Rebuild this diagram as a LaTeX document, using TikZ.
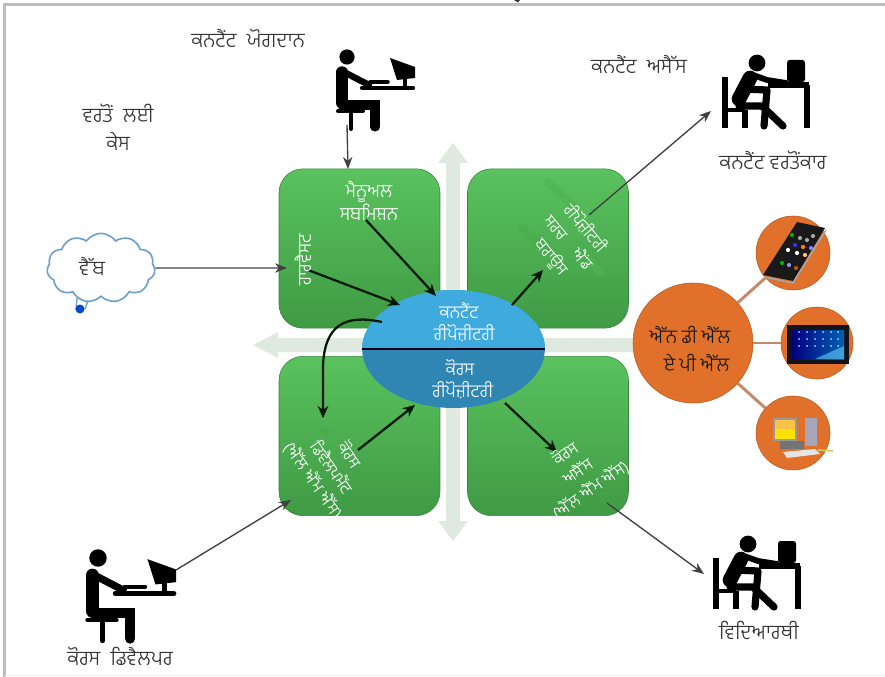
\documentclass[tikz,border=0pt]{standalone}
\usepackage{fontspec}
\setmainfont[Script=Gurmukhi,UprightFont=* Light]{Hind Jalandhar}
\usetikzlibrary{arrows.meta,shapes.geometric,shapes.symbols,calc}
\definecolor{frameg}{HTML}{BDBDBD}
\definecolor{crossg}{HTML}{DFE9DF}
\definecolor{greenT}{HTML}{5AC25E}
\definecolor{greenB}{HTML}{3F9A44}
\definecolor{orangeM}{HTML}{E0702A}
\definecolor{linkO}{HTML}{C48A68}
\definecolor{blueT}{HTML}{3FAADD}
\definecolor{blueB}{HTML}{2F86B3}
\definecolor{cloudB}{HTML}{6E9FCB}
\tikzset{
  x=.75pt,y=-.75pt,
  greenbox/.style={rectangle,rounded corners=18pt,minimum width=120.75pt,minimum height=119.5pt,inner sep=0pt,top color=greenT,bottom color=greenB,draw=greenB!85!black,line width=.4pt},
  lbl/.style={font=\fontsize{15.5}{21}\selectfont,text=black!80,inner sep=0pt,align=center},
  wlbl/.style={font=\fontsize{14}{17.2}\selectfont,text=white,inner sep=0pt,align=center},
  rlbl/.style={font=\fontsize{13.5}{16.5}\selectfont,text=white,inner sep=0pt,align=center},
  slbl/.style={font=\fontsize{12.5}{16.5}\selectfont,text=white,inner sep=0pt,align=center},
  thinarrow/.style={-{Stealth[length=9pt,width=7pt]},line width=1pt,draw=black!75},
  thickarrow/.style={-{Stealth[length=9pt,width=8pt]},line width=1.7pt,draw=black!90!green},
  orb/.style={circle,fill=orangeM,draw=orangeM!80!black,line width=.4pt,inner sep=0pt},
  link/.style={draw=linkO,line width=2.2pt},
  pics/seated/.style={code={
    \begin{scope}[scale=#1,line cap=round,draw=black,fill=black]
      \fill (0,0) circle (7.6);
      \draw[line width=#1*8.6pt] (-5,15)--(-5,46);
      \draw[line width=#1*4.8pt] (-5,14)--(22,28);
      \draw[line width=#1*6.8pt] (-5,48)--(28,48)--(28,70);
      \draw[line width=#1*3pt] (-9,54)--(16,54);
      \draw[line width=#1*3pt] (4,54)--(4,72);
      \draw[line width=#1*3.2pt] (15,31)--(66,31);
      \draw[line width=#1*2.6pt] (23,25)--(41,25);
      \fill[line cap=butt] (43,1)--(68,10)--(68,21)--(50,23)--cycle;
      \draw[line width=#1*3.5pt,line cap=butt] (58,20)--(58,31);
    \end{scope}}},
  pics/atdesk/.style={code={
    \begin{scope}[line cap=round,draw=black,fill=black]
      \fill (0,0) circle (8.4);
      \draw[line width=3.8pt,line cap=butt] (-32,14)--(-32,65);
      \draw[line width=3pt,line cap=butt] (-32,47)--(-12,47);
      \draw[line width=3.8pt,line cap=butt] (-12,47)--(-12,65);
      \draw[line width=3.8pt,line cap=butt] (11,22)--(52,22);
      \draw[line width=3.8pt,line cap=butt] (50,22)--(50,65);
      \draw[line width=11pt] (-7,15)--(-18,36);
      \draw[line width=4.4pt] (-4,12)--(10,17)--(29,20);
      \draw[line width=5.4pt,line join=round] (-13,26)--(10,27)--(7,63);
      \draw[line width=5.4pt,line join=round] (-18,43)--(5,43)--(26,63);
      \fill[rounded corners=2pt] (30,-3) rectangle (48,19);
    \end{scope}}}
}
\begin{document}
\begin{tikzpicture}
\useasboundingbox (0,0) rectangle (885,677);
\fill[white] (0,0) rectangle (885,677);
% frame
\draw[frameg,line width=2.4pt] (885,4.5)--(4.5,4.5)--(4.5,677);
\draw[black!6,line width=1.2pt] (5,675.5)--(885,675.5);
\fill[black!80] (514,0)--(520,0)--(518,2.5)--cycle;
% cross arrows
\fill[crossg] (453,143)--(468,163)--(460,163)--(460,521)--(468,521)--(453,541)--(438,521)--(446,521)--(446,163)--(438,163)--cycle;
\fill[crossg] (253,345)--(278,332)--(278,338)--(640,338)--(640,352)--(278,352)--(278,358)--cycle;
% green boxes
\node[greenbox] (tl) at (359.5,248.5) {};
\node[greenbox] (tr) at (548,248.5) {};
\node[greenbox] (bl) at (359.5,436) {};
\node[greenbox] (br) at (548,436) {};
% smudges
\begin{scope}[line cap=round]
\draw[greenB,opacity=.18,line width=6pt] (548,182)--(572,205);
\draw[greenB,opacity=.18,line width=6pt] (522,228)--(545,250);
\draw[greenT,opacity=.3,line width=6pt] (590,262)--(600,272);
\draw[greenB,opacity=.25,line width=5pt] (322,428)--(326,432);
\end{scope}
% repository
\node[ellipse,minimum width=137pt,minimum height=88.5pt,inner sep=0pt,fill=blueB] (repo) at (453.5,349) {};
\begin{scope}
\clip (350,280) rectangle (560,349);
\fill[blueT] (repo.center) ellipse [x radius=91.5,y radius=59];
\end{scope}
\draw[black!90!blue,line width=1.4pt] (repo.west)--(repo.east);
% orange
\node[orb,minimum width=90pt] (ndl) at (693,343) {};
\node[orb,minimum width=55.5pt] (phone) at (793,253) {};
\node[orb,minimum width=54pt] (tablet) at (817,343) {};
\node[orb,minimum width=55.5pt] (pc) at (793,433) {};
\draw[link] (ndl)--(phone);
\draw[link] (ndl)--(tablet);
\draw[link] (ndl)--(pc);
% phone icon
\fill[black!90] (797,222)--(825,228)--(793,281)--(763,275)--cycle;
\draw[black!35,line width=1.2pt] (764,277)--(793,283)--(826,230);
\foreach \xx/\yy/\cc in {792/235/green!70!black,800/238/black!35,807/240/black!35,813/236/black!35,795/245/blue!80,803/247/orange,811/248/blue!50,788/250/white,797/253/white,805/255/orange!50,782/263/green!70!black,789/265/blue!45,796/268/orange!70!black}
  \fill[\cc] (\xx,\yy) circle (2.1);
% tablet icon
\fill[black!92] (787,325) rectangle (849,364);
\fill[left color=blue!50!black,right color=cyan!55!blue!70!black] (792,330) rectangle (844,359);
\foreach \xx in {799,807,815,823,831,838} \foreach \yy in {332,339,346} \fill[white!80!blue] (\xx,\yy) circle (1);
\fill[cyan!60,opacity=.6] (815,359)--(844,346)--(844,359)--cycle;
% pc icon
\fill[black!40] (773,418) rectangle (797,441);
\fill[yellow!85!orange] (775,420) rectangle (795,439);
\fill[yellow!35!orange!70] (775,420) rectangle (795,429);
\fill[blue!20!black!35] (805,418) rectangle (817,446);
\fill[black!55] (780,441) rectangle (804,449);
\fill[black!10] (783,452) -- (815,449) -- (820,454) -- (787,458) -- cycle;
\draw[yellow!75!black!75,line width=1.2pt] (818,450)--(833,451);
% cloud
\fill[white] (76,300)--(90,298)--(84,312)--(76,312)--cycle;
\draw[cloudB,line width=1pt] (77,298)--(76,310) (89,298)--(85,309);
\fill[blue!65!cyan!80!black] (80,309) circle (4.5);
\node[cloud,cloud puffs=11,cloud puff arc=110,aspect=1.7,minimum width=81pt,minimum height=52pt,draw=cloudB,fill=white,line width=1.2pt,inner sep=0pt] (web) at (101,268) {};
\node[lbl] (webtxt) at (92,266) {ਵੈੱਬ};
% people
\pic at (347,57) {seated=1};
\pic at (98,558) {seated=1.15};
\pic at (757,63) {atdesk};
\pic at (748,544) {atdesk};
% connector ends
\coordinate (persA) at (347,125);
\coordinate (persAend) at (348,169);
\coordinate (msS) at (366,220);
\coordinate (msE) at (436,296);
\coordinate (hvS) at (308,270);
\coordinate (hvE) at (400,305);
\coordinate (webE) at (287,268);
\coordinate (trS) at (512,305);
\coordinate (trE) at (543,270);
\coordinate (ctS) at (589,215);
\coordinate (ctE) at (711,111);
\coordinate (cvS) at (382,322);
\coordinate (cvE) at (323,418);
\coordinate (blS) at (358,450);
\coordinate (blE) at (415,405);
\coordinate (brS) at (505,403);
\coordinate (brE) at (557,452);
\coordinate (stS) at (607,503);
\coordinate (stE) at (704,574);
\coordinate (dvS) at (176,570);
\coordinate (dvE) at (291,500);
\draw[thinarrow] (persA)--(persAend);
\draw[thinarrow] (web.east)--(webE);
\draw[thickarrow] (msS)--(msE);
\draw[thickarrow] (hvS)--(hvE);
\draw[thickarrow] (trS)--(trE);
\draw[thinarrow] (ctS)--(ctE);
\draw[thickarrow] (cvS) .. controls (345,314) and (325,325) .. (323,365) -- (cvE);
\draw[thickarrow] (blS)--(blE);
\draw[thickarrow] (brS)--(brE);
\draw[thinarrow] (stS)--(stE);
\draw[thinarrow] (dvS)--(dvE);
% labels
\node[lbl] (t1) at (248,38) {ਕਨਟੈਂਟ\enspace ਯੋਗਦਾਨ};
\node[lbl] (t2) at (118,113) {ਵਰਤੋਂ\enspace ਲਈ};
\node[lbl] (t3) at (118,141) {ਕੇਸ};
\node[lbl] (t4) at (639,64) {ਕਨਟੈਂਟ\enspace ਅਸੈੱਸ};
\node[lbl] (t5) at (773,160) {ਕਨਟੈਂਟ ਵਰਤੋਂਕਾਰ};
\node[lbl] (t6) at (120,656) {ਕੋਰਸ\enspace ਡਿਵੈਲਪਰ};
\node[lbl] (t7) at (759,630) {ਵਿਦਿਆਰਥੀ};
\node[wlbl] (t8) at (369,201) {ਮੈਨੂਅਲ\\ਸਬਮਿਸ਼ਨ};
\node[wlbl,rotate=90] (t9) at (303,260) {ਹਾਰਵੈਸਟ};
\node[rlbl] (t10) at (459,322) {ਕਨਟੈਂਟ\\\hspace*{8pt}ਰੀਪੋਜ਼ੀਟਰੀ};
\node[rlbl] (t11) at (460,379) {ਕੋਰਸ\\\hspace*{4pt}ਰੀਪੋਜ਼ੀਟਰੀ};
\node[slbl,rotate=-50] (t12) at (568,243) {ਰੀਪੋਜ਼ੀਟਰੀ\\ਸਰਚ\quad ਐਂਡ\\ਬਰਾਊਸ};
\node[slbl,rotate=-55] (t13) at (331,468) {ਕੋਰਸ\\ਡਿਵੈਲਪਮੈਂਟ\\(ਐੱਲ ਐੱਮ ਐੱਸ)};
\node[slbl,rotate=35] (t14) at (578,472) {ਕੋਰਸ\\ਅਸੈੱਸ\\(ਐੱਲ ਐੱਮ ਐੱਸ)};
\node[lbl,text=black!90,font=\fontsize{14.6}{21}\selectfont] (t15) at (690,349) {ਐੱਨ ਡੀ ਐੱਲ\\\hspace*{10pt}ਏ ਪੀ ਐੱਲ};
\end{tikzpicture}
\end{document}
